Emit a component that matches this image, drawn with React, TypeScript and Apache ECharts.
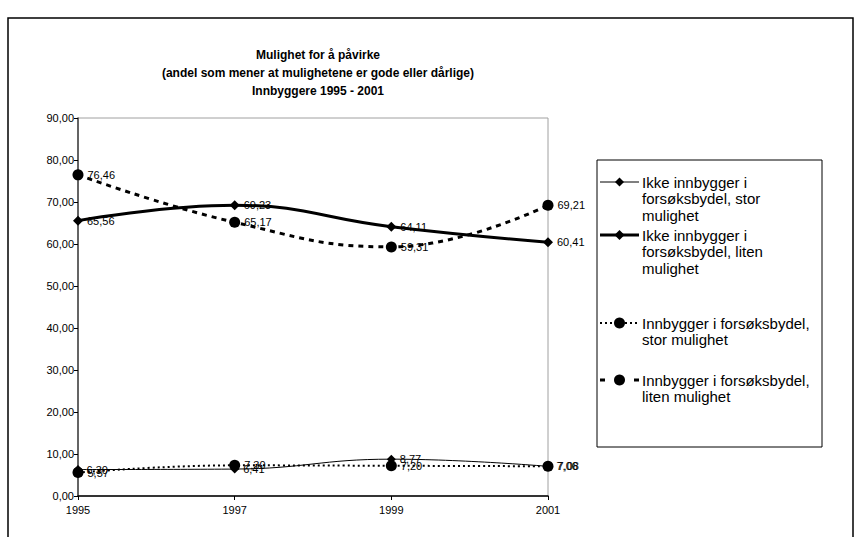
import React, { useEffect, useRef } from "react";
import * as echarts from "echarts";

const years = ["1995", "1997", "1999", "2001"];
const seriesNames = [
  "Ikke innbygger i forsøksbydel, stor mulighet",
  "Ikke innbygger i forsøksbydel, liten mulighet",
  "Innbygger i forsøksbydel, stor mulighet",
  "Innbygger i forsøksbydel, liten mulighet",
];
const ikkeStor = [6.3, 6.41, 8.77, 7.06];
const ikkeLiten = [65.56, 69.23, 64.11, 60.41];
const innStor = [5.57, 7.3, 7.2, 7.08];
const innLiten = [76.46, 65.17, 59.31, 69.21];
const titleLines = [
  "Mulighet for å påvirke",
  "(andel som mener at mulighetene er gode eller dårlige)",
  "Innbyggere 1995 - 2001",
];
const legendLines = [
  ["Ikke innbygger i", "forsøksbydel, stor", "mulighet"],
  ["Ikke innbygger i", "forsøksbydel, liten", "mulighet"],
  ["Innbygger i forsøksbydel,", "stor mulighet"],
  ["Innbygger i forsøksbydel,", "liten mulighet"],
];

const fmt = (v: number) => v.toFixed(2).replace(".", ",");
const FONT = "Arial, 'Liberation Sans', sans-serif";

export default function App() {
  const ref = useRef<HTMLDivElement>(null);
  useEffect(() => {
    document.body.style.margin = "0";
    const chart = echarts.init(ref.current!, null, { renderer: "svg" });

    const styles = [
      { width: 1, type: "solid" as any, symbol: "diamond", size: 9 },
      { width: 3, type: "solid" as any, symbol: "diamond", size: 10 },
      { width: 2, type: [2, 3] as any, symbol: "circle", size: 11 },
      { width: 3, type: [5, 5] as any, symbol: "circle", size: 11 },
    ];
    const datas = [ikkeStor, ikkeLiten, innStor, innLiten];

    const series = datas.map((d, i) => ({
      name: seriesNames[i],
      type: "line",
      data: d,
      smooth: 0.45,
      symbol: styles[i].symbol,
      symbolSize: styles[i].size,
      itemStyle: { color: "#000" },
      lineStyle: { color: "#000", width: styles[i].width, type: styles[i].type },
      label: {
        show: true,
        position: "right",
        distance: 4,
        color: "#000",
        fontSize: 11,
        fontFamily: FONT,
        formatter: (p: any) => fmt(p.value),
      },
    }));

    const legendY = [182, 235, 323, 380];
    const graphics: any[] = [
      {
        type: "rect",
        shape: { x: 8, y: 18, width: 845, height: 540 },
        style: { fill: "none", stroke: "#000", lineWidth: 1.5 },
        silent: true,
      },
      {
        type: "rect",
        shape: { x: 597, y: 160, width: 225, height: 287 },
        style: { fill: "#fff", stroke: "#000", lineWidth: 1 },
      },
    ];
    titleLines.forEach((t, i) => {
      graphics.push({
        type: "text",
        x: 318,
        y: 55 + i * 18,
        style: {
          text: t,
          fontSize: 12,
          fontWeight: "bold",
          fontFamily: FONT,
          fill: "#000",
          align: "center",
          verticalAlign: "middle",
        },
      });
    });
    legendLines.forEach((lines, i) => {
      const y = legendY[i];
      graphics.push({
        type: "line",
        shape: { x1: 600, y1: y, x2: 639, y2: y },
        style: {
          stroke: "#000",
          lineWidth: styles[i].width,
          lineDash: i === 2 ? [2, 3] : i === 3 ? [5, 12] : null,
        },
      });
      if (styles[i].symbol === "diamond") {
        const s = styles[i].size / 2;
        graphics.push({
          type: "polygon",
          shape: { points: [[619.5, y - s], [619.5 + s, y], [619.5, y + s], [619.5 - s, y]] },
          style: { fill: "#000" },
        });
      } else {
        graphics.push({
          type: "circle",
          shape: { cx: 619.5, cy: y, r: styles[i].size / 2 },
          style: { fill: "#000" },
        });
      }
      lines.forEach((ln, j) => {
        graphics.push({
          type: "text",
          x: 642,
          y: y + j * 16.7,
          style: {
            text: ln,
            fontSize: 15,
            fontFamily: FONT,
            fill: "#000",
            verticalAlign: "middle",
          },
        });
      });
    });

    chart.setOption({
      animation: false,
      backgroundColor: "#fff",
      grid: {
        left: 78,
        right: 313,
        top: 118,
        bottom: 41,
        show: true,
        borderColor: "#a0a0a0",
        borderWidth: 1,
        backgroundColor: "transparent",
      },
      xAxis: {
        type: "category",
        data: years,
        boundaryGap: false,
        axisLine: { lineStyle: { color: "#000", width: 1.5 } },
        axisTick: { show: true, length: 4, lineStyle: { color: "#000" } },
        axisLabel: { color: "#000", fontSize: 11, fontFamily: FONT, margin: 8 },
        splitLine: { show: false },
      },
      yAxis: {
        type: "value",
        min: 0,
        max: 90,
        interval: 10,
        axisLine: { show: true, lineStyle: { color: "#404040", width: 1.5 } },
        axisTick: { show: true, length: 4, lineStyle: { color: "#000" } },
        axisLabel: {
          color: "#000",
          fontSize: 11,
          fontFamily: FONT,
          margin: 4,
          formatter: (v: number) => fmt(v),
        },
        splitLine: { show: false },
      },
      series,
      graphic: graphics,
    });
    return () => chart.dispose();
  }, []);
  return <div ref={ref} style={{ width: 861, height: 537 }} />;
}
